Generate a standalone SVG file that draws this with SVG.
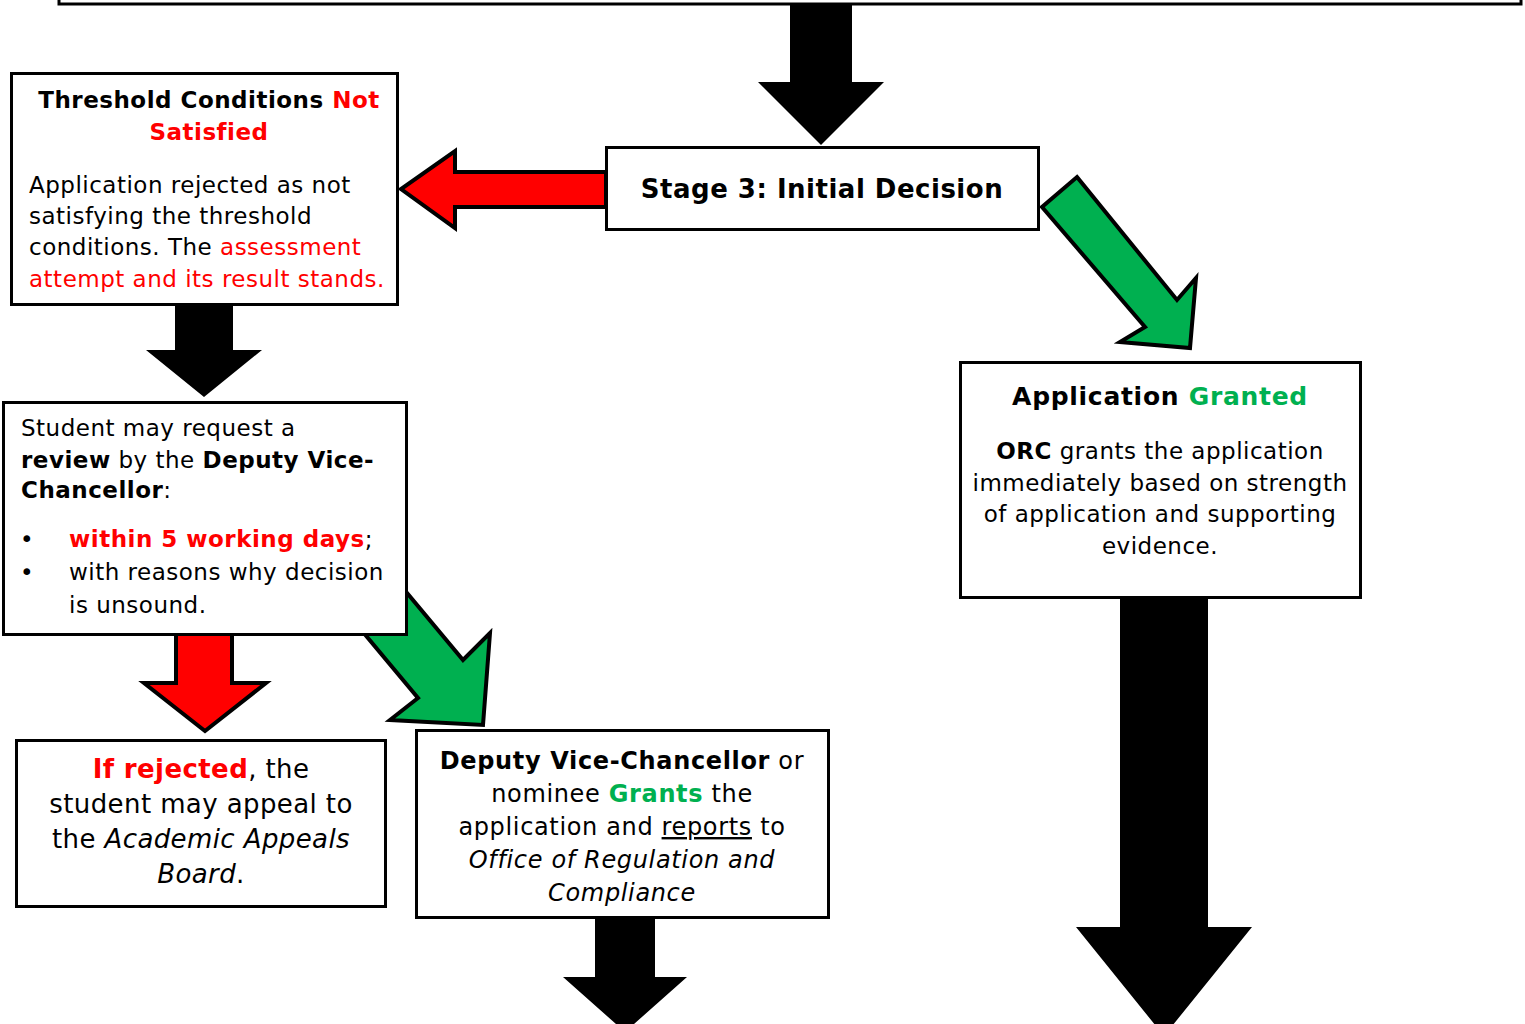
<svg xmlns="http://www.w3.org/2000/svg" width="1525" height="1024" viewBox="0 0 1525 1024">
<style>
.box{fill:#fff;stroke:#000;stroke-width:3}
.t{font-family:"DejaVu Sans","Verdana",sans-serif;fill:#000}
.body{font-size:23px;letter-spacing:0.5px}
.b{font-weight:bold}
.r{fill:#ff0000}
.g{fill:#00b050}
.i{font-style:italic}
.blk{fill:#000}
.red{fill:#ff0000;stroke:#000;stroke-width:4;stroke-linejoin:miter}
.grn{fill:#00b050;stroke:#000;stroke-width:4;stroke-linejoin:miter}
</style>
<rect width="1525" height="1024" fill="#fff"/>
<g id="connectors">
<polygon class="blk" points="790,3 852,3 852,82 884,82 821,145 758,82 790,82"/>
<polygon class="red" points="606,172 455,172 455,151 401,189 455,228 455,207 606,207"/>
<polygon class="grn" points="1077,177 1177,300 1196,278 1190,348 1120,342 1145,327 1042,207"/>
<polygon class="blk" points="175,305 233,305 233,350 262,350 204,397 146,350 175,350"/>
<polygon class="red" points="176,630 232,630 232,683 266,683 205,731 144,683 176,683"/>
<polygon class="grn" points="367,545 463,660 490,633 483,725 390,720 418,698 322,583"/>
<polygon class="blk" points="1120,598 1208,598 1208,927 1252,927 1164,1036 1076,927 1120,927"/>
<polygon class="blk" points="595,918 655,918 655,977 687,977 625,1032 563,977 595,977"/>
</g>
<g id="top-box">
<rect class="box" x="59" y="-10" width="1462" height="14"/>
</g>
<g id="stage3">
<rect class="box" x="606.5" y="147.5" width="432" height="82"/>
<text class="t b" x="822" y="198" font-size="26" letter-spacing="0.5" text-anchor="middle">Stage 3: Initial Decision</text>
</g>
<g id="threshold">
<rect class="box" x="11.5" y="73.5" width="386" height="231"/>
<text class="t b" font-size="23" letter-spacing="0.5" text-anchor="middle"><tspan x="209" y="108">Threshold Conditions <tspan class="r">Not</tspan></tspan><tspan class="r" x="209" y="140">Satisfied</tspan></text>
<text class="t body"><tspan x="29" y="193">Application rejected as not</tspan><tspan x="29" y="224">satisfying the threshold</tspan><tspan x="29" y="255">conditions. The <tspan class="r">assessment</tspan></tspan><tspan class="r" x="29" y="287">attempt and its result stands.</tspan></text>
</g>
<g id="student">
<rect class="box" x="3.5" y="402.5" width="403" height="232"/>
<text class="t body"><tspan x="21" y="436">Student may request a</tspan><tspan x="21" y="468"><tspan class="b">review</tspan> by the <tspan class="b">Deputy Vice-</tspan></tspan><tspan x="21" y="498"><tspan class="b">Chancellor</tspan>:</tspan></text>
<text class="t body"><tspan x="20" y="547">•</tspan><tspan x="20" y="580">•</tspan></text>
<text class="t body"><tspan x="69" y="547"><tspan class="b r">within 5 working days</tspan>;</tspan><tspan x="69" y="580">with reasons why decision</tspan><tspan x="69" y="613">is unsound.</tspan></text>
</g>
<g id="granted">
<rect class="box" x="960.5" y="362.5" width="400" height="235"/>
<text class="t b" x="1160" y="405" font-size="25" letter-spacing="0.7" text-anchor="middle">Application <tspan class="g">Granted</tspan></text>
<text class="t body" text-anchor="middle"><tspan x="1160" y="459"><tspan class="b">ORC</tspan> grants the application</tspan><tspan x="1160" y="491">immediately based on strength</tspan><tspan x="1160" y="522">of application and supporting</tspan><tspan x="1160" y="554">evidence.</tspan></text>
</g>
<g id="rejected">
<rect class="box" x="16.5" y="740.5" width="369" height="166"/>
<text class="t" font-size="26" letter-spacing="0.4" text-anchor="middle"><tspan x="201" y="778"><tspan class="b r">If rejected</tspan>, the</tspan><tspan x="201" y="813">student may appeal to</tspan><tspan x="201" y="848">the <tspan class="i">Academic Appeals</tspan></tspan><tspan x="201" y="883"><tspan class="i">Board</tspan>.</tspan></text>
</g>
<g id="dvc">
<rect class="box" x="416.5" y="730.5" width="412" height="187"/>
<text class="t" font-size="24" letter-spacing="0.65" text-anchor="middle"><tspan x="622" y="769"><tspan class="b">Deputy Vice-Chancellor</tspan> or</tspan><tspan x="622" y="802">nominee <tspan class="b g">Grants</tspan> the</tspan><tspan x="622" y="835">application and <tspan text-decoration="underline">reports</tspan> to</tspan><tspan class="i" x="622" y="868">Office of Regulation and</tspan><tspan class="i" x="622" y="901">Compliance</tspan></text>
</g>
</svg>
